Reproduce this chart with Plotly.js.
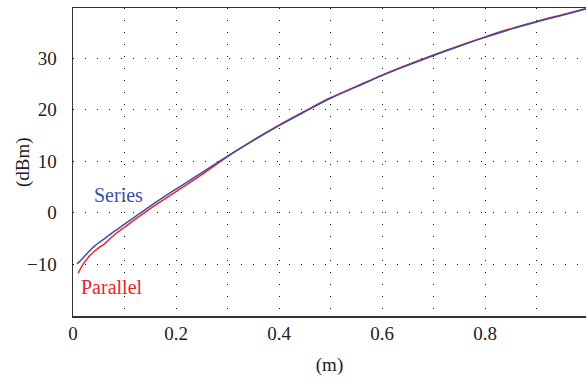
<!DOCTYPE html>
<html>
<head>
<meta charset="utf-8">
<script src="https://cdn.plot.ly/plotly-3.0.1.min.js"></script>
<style>html,body{margin:0;padding:0;background:#fff;}#chart{width:586px;height:378px;}</style>
</head>
<body>
<div id="chart"></div>
<script>
const seriesX = [0.008, 0.02, 0.03, 0.04, 0.05, 0.06, 0.08, 0.10, 0.15, 0.20, 0.25, 0.30, 0.35, 0.40, 0.45, 0.50, 0.55, 0.60, 0.65, 0.70, 0.75, 0.80, 0.85, 0.90, 0.95, 1.00];
const seriesY = [-9.9, -8.7, -7.6, -6.6, -5.8, -5.1, -3.6, -2.2, 1.3, 4.6, 7.8, 11.0, 14.0, 16.9, 19.6, 22.2, 24.4, 26.6, 28.6, 30.5, 32.3, 34.0, 35.6, 37.0, 38.3, 39.6];
const parallelX = [0.01, 0.02, 0.03, 0.04, 0.05, 0.06, 0.08, 0.10, 0.15, 0.20, 0.25, 0.30, 0.35, 0.40, 0.45, 0.50, 0.55, 0.60, 0.65, 0.70, 0.75, 0.80, 0.85, 0.90, 0.95, 1.00];
const parallelY = [-11.7, -9.9, -8.6, -7.6, -6.8, -6.1, -4.3, -2.8, 0.8, 4.1, 7.4, 10.9, 14.1, 17.0, 19.7, 22.3, 24.5, 26.7, 28.7, 30.6, 32.4, 34.1, 35.7, 37.1, 38.4, 39.7];
const xTickVals = [0, 0.2, 0.4, 0.6, 0.8];
const xTickText = ["0", "0.2", "0.4", "0.6", "0.8"];
const yTickVals = [-10, 0, 10, 20, 30];
const yTickText = ["\u221210", "0", "10", "20", "30"];
const seriesName = "Series";
const parallelName = "Parallel";
const xTitle = "(m)";
const yTitle = "(dBm)";

const blue = "#3a50a2";
const red = "#e8252d";
const fam = "Liberation Serif";
const gridDash = "1px,11px";
const fs = 19;

const traces = [
  {x: parallelX, y: parallelY, mode: "lines", name: parallelName, line: {color: red, width: 1.5, shape: "spline", smoothing: 1}},
  {x: seriesX, y: seriesY, mode: "lines", name: seriesName, line: {color: blue, width: 1.5, shape: "spline", smoothing: 1}}
];

const layout = {
  width: 586, height: 378,
  margin: {l: 73, r: 0, t: 8, b: 62},
  paper_bgcolor: "#fff", plot_bgcolor: "#fff",
  showlegend: false,
  font: {family: fam, size: fs, color: "#222"},
  xaxis: {
    range: [0, 0.996],
    tickvals: xTickVals, ticktext: xTickText,
    ticks: "", showline: true, mirror: true, linecolor: "#333", linewidth: 1.5,
    showgrid: true, gridcolor: "#111", gridwidth: 1, griddash: gridDash,
    minor: {dtick: 0.1, tick0: 0, showgrid: true, gridcolor: "#111", gridwidth: 1, griddash: gridDash},
    zeroline: false,
    ticklabelstandoff: 0,
    tickfont: {family: fam, size: fs, color: "#222"},
    title: {text: xTitle, font: {family: fam, size: fs, color: "#222"}, standoff: 14}
  },
  yaxis: {
    range: [-20, 39.7],
    tickvals: yTickVals, ticktext: yTickText,
    ticks: "", showline: true, linecolor: "#333", linewidth: 1.5,
    showgrid: true, gridcolor: "#111", gridwidth: 1, griddash: gridDash,
    zeroline: false,
    ticklabelstandoff: 11,
    tickfont: {family: fam, size: fs, color: "#222"}
  },
  annotations: [
    {x: -0.0975, y: 0.5, xref: "paper", yref: "paper", xanchor: "center", yanchor: "middle", text: yTitle, textangle: -90, showarrow: false, font: {family: fam, size: fs, color: "#222"}},
    {x: 0.089, y: 3.4, xref: "x", yref: "y", text: seriesName, showarrow: false, font: {family: fam, size: 20, color: blue}},
    {x: 0.075, y: -14.4, xref: "x", yref: "y", text: parallelName, showarrow: false, font: {family: fam, size: 20, color: red}}
  ]
};

Plotly.newPlot("chart", traces, layout, {displayModeBar: false, staticPlot: true});
</script>
</body>
</html>
